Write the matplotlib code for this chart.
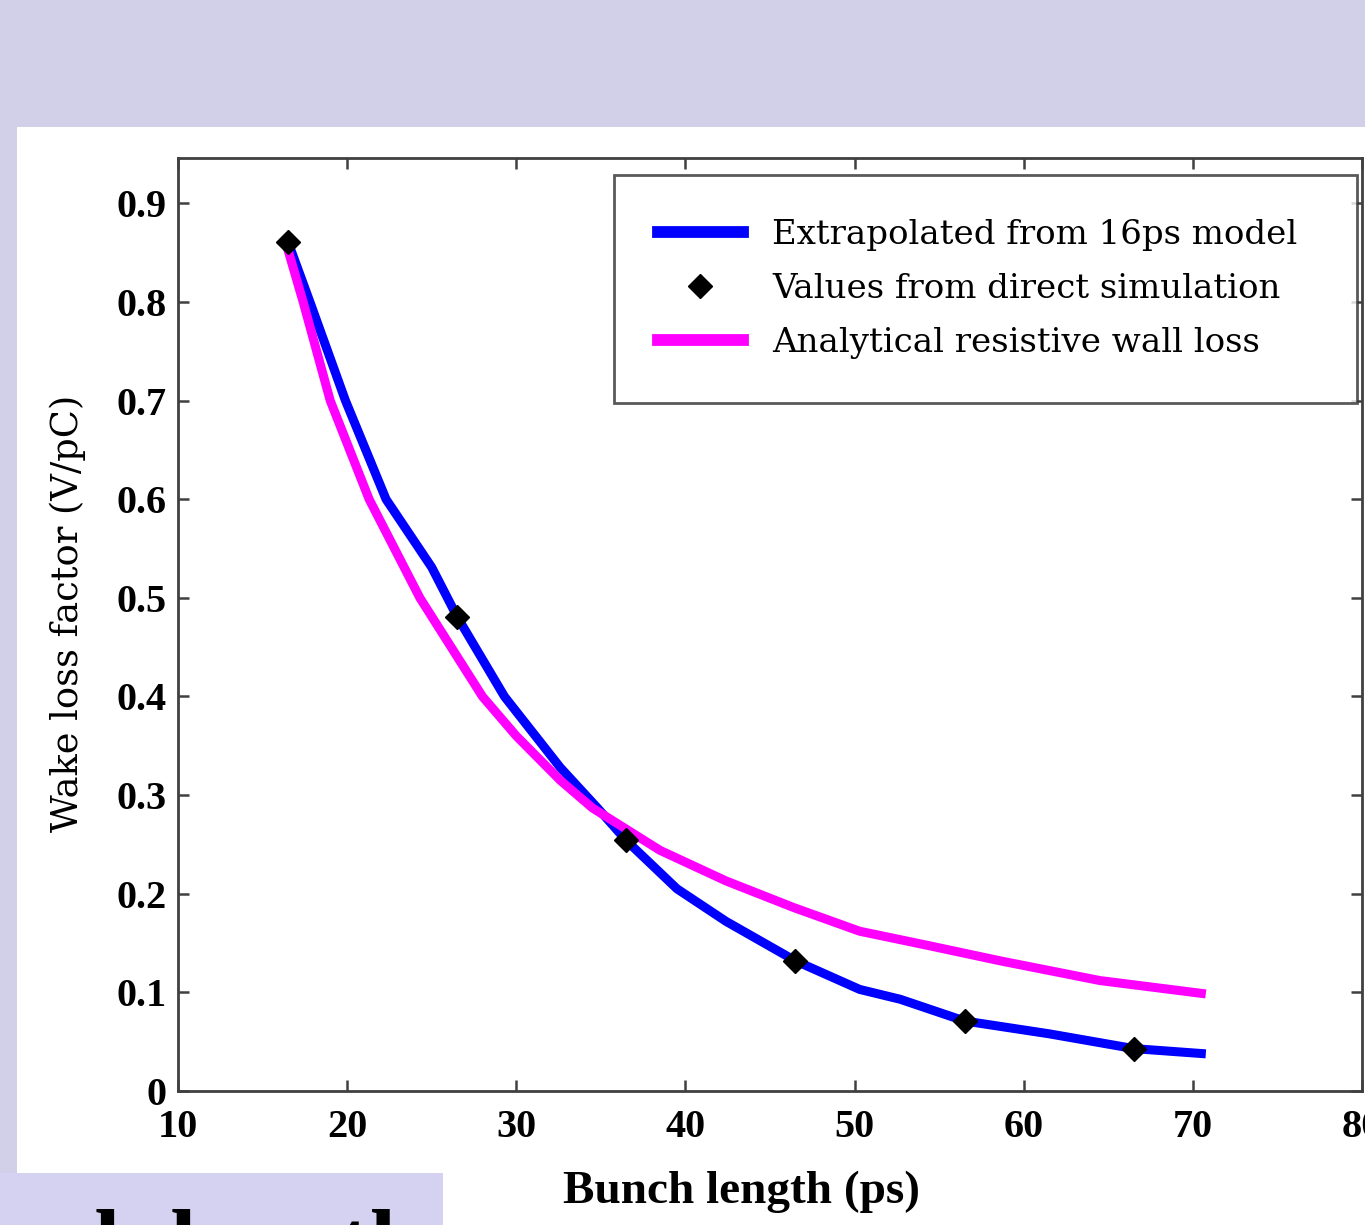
import numpy as np
import matplotlib
matplotlib.use("Agg")
import matplotlib.pyplot as plt
from matplotlib.patches import Rectangle
from matplotlib.lines import Line2D

# bunch length (ps) vs wake loss factor (V/pC)
extrap_x = [16.5, 17.8, 19.9, 22.3, 25.0, 26.5, 29.3, 32.6, 34.8, 36.5, 39.5,
            42.4, 46.5, 50.3, 52.7, 56.5, 61.5, 66.5, 70.5]
extrap_y = [0.861, 0.800, 0.700, 0.600, 0.531, 0.481, 0.400, 0.328, 0.287, 0.254, 0.205,
            0.172, 0.132, 0.103, 0.093, 0.071, 0.058, 0.043, 0.038]

sim_x = [16.5, 26.5, 36.5, 46.5, 56.5, 66.5]
sim_y = [0.861, 0.481, 0.254, 0.132, 0.071, 0.043]

wall_x = [16.5, 17.4, 19.0, 21.3, 24.3, 28.0, 30.0, 32.6, 34.5, 38.5,
          42.4, 46.4, 50.3, 54.5, 58.6, 64.5, 70.5]
wall_y = [0.853, 0.800, 0.700, 0.600, 0.500, 0.400, 0.360, 0.315, 0.287, 0.244,
          0.213, 0.186, 0.162, 0.147, 0.132, 0.112, 0.099]

legend_labels = ["Extrapolated from 16ps model", "Values from direct simulation",
                 "Analytical resistive wall loss"]
xticks = [10, 20, 30, 40, 50, 60, 70, 80]
yticks = [0, 0.1, 0.2, 0.3, 0.4, 0.5, 0.6, 0.7, 0.8, 0.9]
ytick_labels = ["0", "0.1", "0.2", "0.3", "0.4", "0.5", "0.6", "0.7", "0.8", "0.9"]

W, H = 1365, 1225
fig = plt.figure(figsize=(W / 100, H / 100), dpi=100, facecolor="#D2D0E8")

# white plot area and the text box below it
fig.patches.append(Rectangle((17 / W, 0), 1, (H - 127) / H, transform=fig.transFigure,
                             facecolor="white", edgecolor="none", zorder=-2))
fig.patches.append(Rectangle((0, 0), 443 / W, (H - 1173) / H, transform=fig.transFigure,
                             facecolor="#D4D2F0", edgecolor="none", zorder=-1))
fig.text(422 / W, -0.04, "Bunch length", ha="right", va="baseline",
         fontsize=68, fontweight="bold", family="Liberation Serif", color="black")

ax = fig.add_axes([178 / W, 134 / H, (1362 - 178) / W, (1091 - 158) / H])
ax.set_facecolor("white")

ax.plot(extrap_x, extrap_y, color="#0000FF", lw=6.5, zorder=3)
ax.plot(wall_x, wall_y, color="#FF00FF", lw=6.5, zorder=4)
ax.plot(sim_x, sim_y, ls="none", marker="D", ms=12, color="black", zorder=5)

ax.set_xlim(10, 80)
ax.set_ylim(0, 0.946)
ax.set_xticks(xticks)
ax.set_yticks(yticks)
ax.set_yticklabels(ytick_labels)
ax.tick_params(direction="in", length=8, width=1.8, top=True, right=True,
               color="#404040", labelsize=29)
ax.tick_params(axis="x", pad=13)
ax.tick_params(axis="y", pad=8)
for lab in ax.get_xticklabels() + ax.get_yticklabels():
    lab.set_family("Liberation Serif")
    lab.set_fontweight("bold")
for sp in ax.spines.values():
    sp.set_color("#404040")
    sp.set_linewidth(2.0)

# legend handles drawn a bit heavier than the curves
handles = [Line2D([], [], color="#0000FF", lw=8.5),
           Line2D([], [], ls="none", marker="D", ms=12, color="black"),
           Line2D([], [], color="#FF00FF", lw=8.5)]
leg = ax.legend(handles, legend_labels,
                loc="upper left", bbox_to_anchor=(0.368, 0.7385, 0.628, 0.2433),
                mode="expand", prop={"family": "DejaVu Serif", "size": 24.5},
                frameon=True, fancybox=False, borderpad=1.3, labelspacing=0.64,
                handlelength=2.5, handletextpad=0.85, borderaxespad=0)
leg.get_frame().set_edgecolor("#303030")
leg.get_frame().set_linewidth(2.0)

fig.text(68 / W, (H - 613) / H, "Wake loss factor (V/pC)", rotation=90,
         ha="center", va="center", fontsize=26.5, family="DejaVu Serif")
fig.text(742 / W, (H - 1192) / H, "Bunch length (ps)", ha="center", va="center",
         fontsize=34, fontweight="bold", family="Liberation Serif")

fig.savefig("out.png", dpi=100, facecolor=fig.get_facecolor())
